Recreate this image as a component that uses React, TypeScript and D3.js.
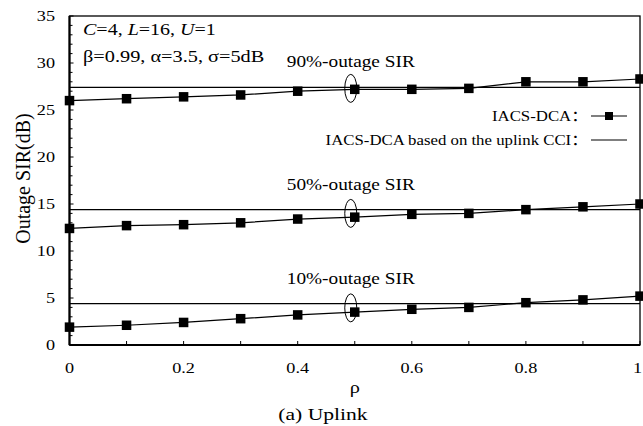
import * as d3 from "d3";

const rho = [0, 0.1, 0.2, 0.3, 0.4, 0.5, 0.6, 0.7, 0.8, 0.9, 1];
const sir90 = [26.0, 26.2, 26.4, 26.6, 27.0, 27.2, 27.2, 27.3, 28.0, 28.0, 28.3];
const sir50 = [12.4, 12.7, 12.8, 13.0, 13.4, 13.6, 13.9, 14.0, 14.4, 14.7, 15.0];
const sir10 = [1.9, 2.1, 2.4, 2.8, 3.2, 3.5, 3.8, 4.0, 4.5, 4.8, 5.2];
const cciLevels = [27.4, 14.4, 4.4];
const groupLabels = ["90%-outage SIR", "50%-outage SIR", "10%-outage SIR"];
const xTickLabels = [0, 0.2, 0.4, 0.6, 0.8, 1];
const yTickLabels = [0, 5, 10, 15, 20, 25, 30, 35];

const W = 643;
const H = 426;
const m = { left: 69.5, right: 3, top: 16, bottom: 81 };
const font = "'Liberation Serif', 'Times New Roman', serif";
const sx = 1.3; // the picture's text is wider than it is tall

const App = () => {
  const x = d3.scaleLinear().domain([0, 1]).range([m.left, W - m.right]);
  const y = d3.scaleLinear().domain([0, 35]).range([H - m.bottom, m.top]);
  const line = d3
    .line<number>()
    .x((_, i) => x(rho[i]))
    .y((d) => y(d));
  const series = [sir90, sir50, sir10];
  const minorY = d3.range(0, 36, 1);
  const minorX = d3.range(0, 11).map((i) => i / 10);
  const sq = 9.5;

  const txt = (
    s: string,
    tx: number,
    ty: number,
    size: number,
    anchor: string,
    k = sx,
    extra: any = {}
  ) => (
    <text
      transform={`translate(${tx},${ty}) scale(${k},1)`}
      fontSize={size}
      textAnchor={anchor}
      fontFamily={font}
      fill="#000"
      {...extra}
    >
      {s}
    </text>
  );

  return (
    <div style={{ position: "fixed", left: 0, top: 0 }}>
      <svg width={W} height={H} style={{ display: "block", background: "#fff" }}>
        {/* frame */}
        <rect
          x={x(0)}
          y={y(35)}
          width={x(1) - x(0)}
          height={y(0) - y(35)}
          fill="none"
          stroke="#000"
          strokeWidth={1.3}
        />
        <line x1={x(0)} x2={x(1)} y1={y(0)} y2={y(0)} stroke="#000" strokeWidth={2.2} />
        <line x1={x(0)} x2={x(0)} y1={y(0)} y2={y(35)} stroke="#000" strokeWidth={2.2} />

        {/* y ticks, inward */}
        {minorY.map((v) => (
          <line
            key={"yt" + v}
            x1={x(0)}
            x2={x(0) + (v % 5 === 0 ? 4 : 3)}
            y1={y(v)}
            y2={y(v)}
            stroke="#000"
            strokeWidth={1}
          />
        ))}
        {yTickLabels.map((v) => (
          <g key={"yl" + v}>{txt(String(v), 55, y(v) + 5, 14, "end")}</g>
        ))}

        {/* x ticks, inward */}
        {minorX.map((v) => (
          <line
            key={"xt" + v}
            x1={x(v)}
            x2={x(v)}
            y1={y(0)}
            y2={y(0) - 4}
            stroke="#000"
            strokeWidth={1}
          />
        ))}
        {xTickLabels.map((v) => (
          <g key={"xl" + v}>
            {v === 1
              ? txt(String(v), W - 1, 373, 14, "end")
              : txt(String(v), x(v), 373, 14, "middle")}
          </g>
        ))}

        {/* CCI reference levels */}
        {cciLevels.map((v, i) => (
          <line
            key={"c" + i}
            x1={x(0)}
            x2={x(1)}
            y1={y(v)}
            y2={y(v)}
            stroke="#000"
            strokeWidth={1.2}
          />
        ))}

        {/* IACS-DCA curves */}
        {series.map((s, i) => (
          <g key={"s" + i}>
            <path d={line(s) || ""} fill="none" stroke="#000" strokeWidth={1.2} />
            {s.map((v, j) => (
              <rect
                key={j}
                x={x(rho[j]) - sq / 2}
                y={y(v) - sq / 2}
                width={sq}
                height={sq}
                fill="#000"
              />
            ))}
          </g>
        ))}

        {/* group ellipses and labels */}
        {cciLevels.map((v, i) => {
          const cy = y((v + series[i][5]) / 2);
          return (
            <g key={"g" + i}>
              <ellipse
                cx={x(0.493)}
                cy={cy}
                rx={6}
                ry={14}
                fill="none"
                stroke="#000"
                strokeWidth={1}
              />
              {txt(groupLabels[i], x(0.493), y(v) - 20, 16.5, "middle", 1.17)}
            </g>
          );
        })}

        {/* parameters */}
        <text
          transform={`translate(83,35) scale(1.25,1)`}
          fontSize={16}
          fontFamily={font}
          fill="#000"
        >
          <tspan fontStyle="italic">C</tspan>=4, <tspan fontStyle="italic">L</tspan>=16,{" "}
          <tspan fontStyle="italic">U</tspan>=1
        </text>
        {txt("β=0.99, α=3.5, σ=5dB", 83, 62, 16, "start", 1.27)}

        {/* legend */}
        {txt("IACS-DCA：", 588, 121, 15, "end", 1.12, {
          fontFamily: font + ", 'Noto Sans CJK SC'",
        })}
        <line x1={591} x2={627} y1={116} y2={116} stroke="#000" strokeWidth={1.2} />
        <rect x={609 - 4} y={116 - 4} width={8} height={8} fill="#000" />
        {txt("IACS-DCA based on the uplink CCI：", 588, 145, 15, "end", 1.12, {
          fontFamily: font + ", 'Noto Sans CJK SC'",
        })}
        <line x1={591} x2={627} y1={140} y2={140} stroke="#000" strokeWidth={1.2} />

        {/* axis titles */}
        {txt("ρ", x(0.5), 393, 17, "middle", 1.2)}
        {txt("(a) Uplink", 323, 420, 16, "middle", 1.35)}
        <text
          transform={`translate(30,${y(17.5) - 2}) rotate(-90)`}
          fontSize={20}
          textAnchor="middle"
          fontFamily={font}
          fill="#000"
        >
          Outage SIR(dB)
        </text>
      </svg>
    </div>
  );
};

export default App;
